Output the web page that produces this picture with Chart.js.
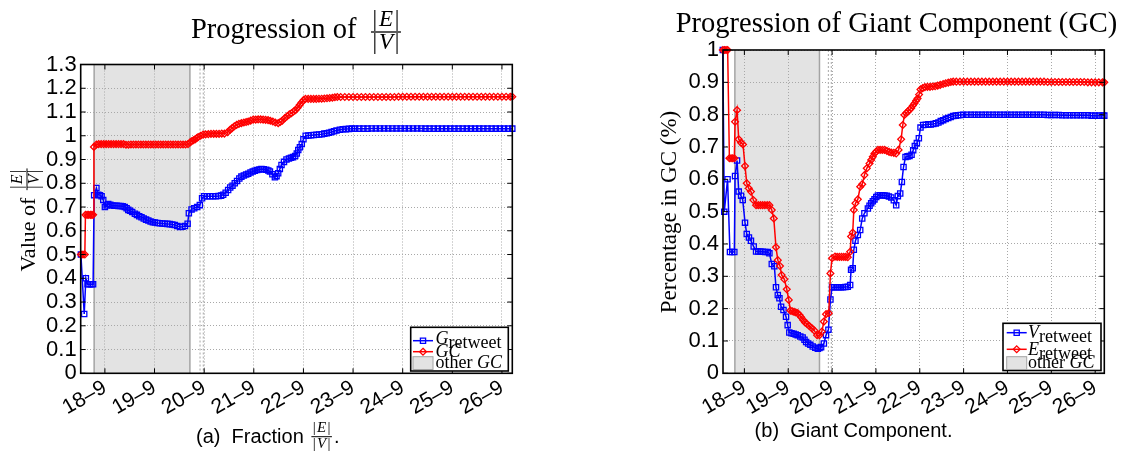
<!DOCTYPE html>
<html><head><meta charset="utf-8">
<script src="https://cdn.jsdelivr.net/npm/chart.js@4.4.1/dist/chart.umd.min.js"></script>
<style>
html,body{margin:0;padding:0;background:#fff;}
body{width:1147px;height:452px;position:relative;overflow:hidden;}
canvas{position:absolute;top:0;}
</style></head>
<body>
<canvas id="ca" width="560" height="452" style="left:0;width:560px;height:452px"></canvas>
<canvas id="cb" width="587" height="452" style="left:560px;width:587px;height:452px"></canvas>
<script>
// ---------- DATA (x = hours since 18-9 00:00) ----------
const dayTicks = [0, 24, 48, 72, 96, 120, 144, 168, 192];
const dayLabels = ['18–9','19–9','20–9','21–9','22–9','23–9','24–9','25–9','26–9'];
const xRange = [-11.7, 197];
const yTicksA = [0,0.1,0.2,0.3,0.4,0.5,0.6,0.7,0.8,0.9,1,1.1,1.2,1.3];
const yLabelsA = ['0','0.1','0.2','0.3','0.4','0.5','0.6','0.7','0.8','0.9','1','1.1','1.2','1.3'];
const yTicksB = [0,0.1,0.2,0.3,0.4,0.5,0.6,0.7,0.8,0.9,1];
const yLabelsB = ['0','0.1','0.2','0.3','0.4','0.5','0.6','0.7','0.8','0.9','1'];
const otherGCWindow = [-5.2, 41.1];
const markerHours = [46.0, 47.6];

// (a) |E|/|V| of G_retweet
const gRetweet = [[-11.6,0.50],[-10.0,0.25],[-9.2,0.40],[-8.4,0.375],[-7.4,0.375],[-6.5,0.375],[-5.7,0.375],[-5.2,0.75],[-4.1,0.78],[-3.2,0.752],[-2.4,0.75],[-1.6,0.745],[-0.8,0.73],[0,0.70],[0.8,0.706],[1.6,0.713],[2.6,0.71],[3.6,0.706],[4.6,0.705],[5.6,0.705],[6.6,0.704],[7.6,0.704],[8.6,0.703],[9.6,0.70],[10.5,0.695],[11.3,0.688],[12.2,0.684],[13.2,0.679],[14.5,0.672],[15.5,0.667],[16.6,0.661],[17.7,0.657],[18.8,0.652],[19.9,0.647],[21,0.643],[22.1,0.639],[23.2,0.636],[24.2,0.635],[25.4,0.633],[26.6,0.632],[27.8,0.631],[29,0.63],[30.2,0.629],[31.4,0.628],[32.6,0.626],[33.8,0.624],[35,0.62],[36.3,0.616],[37.5,0.617],[38.7,0.62],[40,0.63],[40.6,0.674],[41.9,0.69],[43.2,0.695],[44.6,0.70],[45.9,0.708],[47,0.737],[48,0.745],[49.4,0.745],[50.8,0.745],[52.2,0.745],[53.6,0.745],[55,0.746],[56.2,0.748],[57.2,0.752],[58.4,0.76],[59.6,0.772],[60.6,0.782],[61.7,0.79],[62.8,0.80],[63.9,0.81],[65,0.82],[66,0.828],[67.2,0.833],[68.3,0.837],[69.3,0.84],[70.4,0.845],[71.5,0.85],[72.5,0.853],[73.6,0.856],[74.7,0.858],[75.7,0.86],[76.8,0.859],[78,0.857],[79,0.854],[79.8,0.85],[81,0.838],[82.2,0.825],[83,0.83],[83.8,0.842],[84.6,0.86],[85.4,0.877],[86.6,0.89],[87.8,0.90],[89,0.904],[90,0.907],[91,0.91],[92,0.915],[92.8,0.925],[93.5,0.94],[94.3,0.952],[95.2,0.965],[96,0.985],[97.1,1.0],[98.4,1.001],[99.7,1.002],[101,1.003],[102.3,1.004],[103.6,1.005],[104.9,1.006],[106.1,1.009],[107.3,1.011],[108.4,1.013],[109.6,1.016],[110.8,1.019],[112,1.022],[113.6,1.025],[115,1.027],[116.5,1.028],[118,1.029],[119.5,1.03],[121,1.03],[123,1.03],[125,1.03],[127,1.03],[129,1.031],[131,1.031],[133,1.031],[135,1.031],[137,1.031],[139,1.031],[141,1.031],[143,1.031],[145,1.031],[147,1.031],[149,1.031],[151,1.031],[153,1.031],[155,1.03],[157,1.03],[159,1.03],[161,1.03],[163,1.03],[165,1.03],[167,1.03],[169,1.03],[171,1.03],[173,1.03],[175,1.03],[177,1.03],[179,1.03],[181,1.03],[183,1.03],[185,1.03],[187,1.03],[189,1.03],[191,1.03],[193,1.03],[195,1.03],[197,1.03]];

// (a) |E|/|V| of GC
const gcRatio = [[-11.6,0.50],[-10.6,0.50],[-9.7,0.50],[-9.4,0.667],[-8.6,0.667],[-7.8,0.667],[-7.0,0.667],[-6.3,0.667],[-5.7,0.667],[-5.3,0.953],[-4.1,0.963],[-3.0,0.965],[-1.8,0.965],[-0.6,0.965],[0.6,0.965],[1.8,0.965],[3,0.965],[4.2,0.965],[5.4,0.965],[6.6,0.965],[7.8,0.965],[9,0.965],[10.2,0.962],[11.4,0.962],[12.6,0.963],[13.8,0.963],[15,0.963],[16.2,0.963],[17.4,0.963],[18.6,0.963],[19.8,0.963],[21,0.963],[22.2,0.963],[23.4,0.963],[24.6,0.963],[25.8,0.963],[27,0.963],[28.2,0.963],[29.4,0.963],[30.6,0.963],[31.8,0.963],[33,0.963],[34.2,0.963],[35.4,0.963],[36.6,0.963],[37.8,0.963],[39,0.963],[40.2,0.965],[41.2,0.972],[41.9,0.977],[42.8,0.981],[43.6,0.985],[44.4,0.99],[45.1,0.995],[46.3,1.0],[47.5,1.005],[48.7,1.006],[50,1.007],[51.3,1.008],[52.6,1.008],[53.9,1.008],[55.2,1.008],[56.5,1.009],[57.8,1.009],[59.3,1.015],[60.5,1.025],[61.5,1.032],[62.6,1.04],[63.7,1.046],[64.8,1.05],[66,1.053],[67.2,1.056],[68.3,1.058],[69.3,1.06],[70.5,1.064],[71.7,1.068],[72.9,1.068],[74.1,1.069],[75.3,1.069],[76.5,1.068],[77.7,1.067],[78.9,1.066],[80,1.063],[81.2,1.06],[82.4,1.056],[83.8,1.053],[84.8,1.058],[85.8,1.064],[87,1.074],[88.1,1.082],[89.2,1.09],[90.2,1.095],[91.2,1.102],[92.2,1.108],[93.2,1.118],[94.2,1.13],[95.1,1.14],[96,1.15],[97,1.155],[98.3,1.155],[99.6,1.155],[100.9,1.155],[102.2,1.155],[103.5,1.156],[104.8,1.156],[106.1,1.157],[107.4,1.158],[108.7,1.159],[110,1.16],[111.2,1.162],[112.4,1.163],[114,1.163],[116,1.163],[118,1.163],[120,1.163],[122,1.163],[124,1.163],[126,1.163],[128,1.163],[130,1.163],[132,1.163],[134,1.163],[136,1.163],[138,1.163],[140,1.163],[142,1.164],[144,1.164],[146,1.164],[148,1.164],[150,1.164],[152,1.164],[154,1.164],[156,1.164],[158,1.164],[160,1.164],[162,1.164],[164,1.164],[166,1.164],[168,1.164],[170,1.164],[172,1.164],[174,1.164],[176,1.164],[178,1.164],[180,1.164],[182,1.164],[184,1.164],[186,1.164],[188,1.164],[190,1.164],[192,1.164],[194,1.164],[196,1.164],[197,1.164]];

// (b) share of V_retweet in the GC
const vRetweet = [[-11.8,1.0],[-11.0,0.5],[-9.2,0.6],[-7.9,0.375],[-6.7,0.375],[-5.5,0.375],[-5.1,0.61],[-4.0,0.658],[-3.1,0.562],[-1.8,0.549],[-0.9,0.536],[0.35,0.466],[1.3,0.431],[2.5,0.42],[3.6,0.41],[5.1,0.392],[6.4,0.377],[7.6,0.377],[8.8,0.377],[10,0.376],[11.4,0.375],[12.8,0.375],[13.7,0.371],[15,0.338],[16.4,0.331],[17.3,0.266],[18.3,0.242],[19.2,0.232],[20.1,0.206],[21.4,0.196],[22.8,0.175],[23.7,0.149],[24.6,0.126],[25.8,0.124],[27,0.122],[28.1,0.12],[29.2,0.118],[30.6,0.114],[31.9,0.111],[32.9,0.104],[33.8,0.097],[34.9,0.092],[36.1,0.088],[37.4,0.083],[38.8,0.079],[40.2,0.076],[41.1,0.078],[42,0.081],[43.5,0.092],[44.7,0.118],[46,0.135],[47.1,0.228],[48,0.266],[49.2,0.266],[50.4,0.266],[51.6,0.266],[52.8,0.266],[54,0.266],[55.3,0.267],[56.6,0.268],[57.9,0.273],[58.4,0.32],[59.3,0.325],[59.9,0.382],[60.8,0.41],[62.1,0.428],[63.4,0.443],[64.5,0.479],[65.7,0.495],[67.6,0.51],[68.5,0.518],[69.4,0.526],[70.3,0.532],[71.2,0.538],[72.2,0.545],[73.1,0.55],[74.3,0.551],[75.5,0.551],[76.7,0.55],[77.9,0.549],[79.1,0.547],[80.4,0.544],[81.8,0.535],[83.1,0.52],[84,0.548],[85.3,0.556],[86.2,0.592],[87.1,0.638],[88.2,0.669],[89.3,0.671],[90.4,0.672],[91.5,0.676],[92.4,0.69],[93.3,0.703],[94.4,0.712],[95.5,0.727],[96.4,0.76],[97.9,0.768],[99.3,0.769],[100.7,0.77],[102,0.77],[103.4,0.771],[104.8,0.773],[106.2,0.776],[107.5,0.78],[108.8,0.783],[110.2,0.787],[111.6,0.79],[113,0.793],[114.3,0.796],[115.7,0.797],[117,0.798],[118.4,0.799],[119.8,0.8],[122,0.8],[124,0.8],[126,0.8],[128,0.8],[130,0.8],[132,0.8],[134,0.8],[136,0.8],[138,0.8],[140,0.8],[142,0.8],[144,0.8],[146,0.8],[148,0.8],[150,0.8],[152,0.8],[154,0.8],[156,0.8],[158,0.8],[160,0.8],[162,0.8],[164,0.8],[166,0.799],[168,0.799],[170,0.799],[172,0.799],[174,0.798],[176,0.798],[178,0.798],[180,0.798],[182,0.798],[184,0.798],[186,0.798],[188,0.798],[190,0.797],[192,0.797],[194,0.797],[196,0.797],[197,0.797]];

// (b) share of E_retweet in the GC
const eRetweet = [[-11.8,1.0],[-10.9,1.0],[-10.0,1.0],[-9.15,1.0],[-8.2,0.665],[-7.3,0.665],[-6.4,0.665],[-5.5,0.665],[-5.1,0.778],[-4.0,0.814],[-3.1,0.724],[-1.8,0.713],[-0.75,0.708],[0.35,0.641],[1.3,0.588],[2.4,0.572],[3.6,0.562],[4.9,0.536],[6.4,0.52],[7.6,0.52],[8.8,0.52],[10,0.52],[11.2,0.52],[12.5,0.52],[13.7,0.52],[15,0.505],[16.1,0.479],[17.3,0.39],[18.3,0.35],[19.5,0.332],[20.4,0.304],[21.9,0.291],[23.2,0.26],[24.3,0.227],[25.2,0.194],[26.2,0.192],[27.2,0.19],[28.2,0.188],[29.2,0.186],[30.2,0.18],[31.1,0.173],[32.2,0.165],[33.2,0.157],[34.4,0.152],[35.6,0.146],[37,0.139],[38.3,0.132],[39.8,0.118],[41.1,0.118],[42.4,0.129],[43.5,0.16],[44.7,0.183],[46.2,0.186],[47.1,0.309],[48,0.356],[49.6,0.361],[50.8,0.36],[52,0.36],[53.2,0.36],[54.4,0.36],[55.5,0.36],[56.6,0.359],[57.9,0.376],[58.4,0.423],[59.3,0.435],[59.9,0.505],[60.8,0.526],[62.1,0.538],[63.4,0.577],[64.5,0.585],[65.7,0.613],[67,0.634],[68.5,0.649],[69.4,0.66],[70.3,0.67],[71.2,0.68],[72.2,0.686],[73.1,0.691],[74.3,0.691],[75.5,0.691],[76.7,0.691],[78,0.688],[79.2,0.685],[80.4,0.683],[81.8,0.682],[83.1,0.68],[84.4,0.691],[85.8,0.724],[86.7,0.768],[87.6,0.799],[88.6,0.805],[89.5,0.81],[90.4,0.815],[91.3,0.82],[92.2,0.828],[93.1,0.835],[94,0.843],[94.8,0.85],[95.6,0.862],[96.4,0.878],[97.6,0.882],[98.8,0.885],[100.2,0.886],[101.6,0.886],[103,0.887],[104.4,0.888],[105.8,0.89],[107.2,0.892],[108.8,0.895],[110.2,0.897],[111.6,0.899],[113,0.901],[114.3,0.902],[116,0.902],[118,0.902],[120,0.902],[122,0.902],[124,0.902],[126,0.902],[128,0.902],[130,0.902],[132,0.902],[134,0.902],[136,0.902],[138,0.902],[140,0.902],[142,0.902],[144,0.902],[146,0.902],[148,0.902],[150,0.902],[152,0.902],[154,0.902],[156,0.902],[158,0.902],[160,0.902],[162,0.902],[164,0.902],[166,0.901],[168,0.901],[170,0.901],[172,0.901],[174,0.901],[176,0.901],[178,0.901],[180,0.901],[182,0.901],[184,0.901],[186,0.901],[188,0.9],[190,0.9],[192,0.9],[194,0.9],[196,0.9],[197,0.9]];

// ---------- RENDERING ----------
const SERIF = '"Liberation Serif", "Times New Roman", serif';
const SANS = '"Liberation Sans", Arial, sans-serif';
const BLUE = '#0000ff', RED = '#ff0000';
function F(size, italic){ return (italic ? 'italic ' : '') + size + 'px ' + SERIF; }
function runs(c, x, y, parts){
  for (const p of parts){ c.font = p[1]; c.fillText(p[0], x, y + (p[2] || 0)); x += c.measureText(p[0]).width + (p[3] || 0); }
  return x;
}
function runsW(c, parts){ let w = 0; for (const p of parts){ c.font = p[1]; w += c.measureText(p[0]).width + (p[3] || 0); } return w; }
function bars(letter, s){ return [['|', F(s), 0, s*0.08], [letter, F(s, true), 0, s*0.08], ['|', F(s)]]; }
function frac(c, x, yBar, num, den, size, lw){
  const wn = runsW(c, num), wd = runsW(c, den), w = Math.max(wn, wd) + 3;
  runs(c, x + (w - wn)/2, yBar - 0.22*size - 1, num);
  runs(c, x + (w - wd)/2, yBar + 0.7*size + 1, den);
  c.beginPath(); c.lineWidth = lw || 1; c.moveTo(x, yBar); c.lineTo(x + w, yBar); c.stroke();
  return x + w;
}
function marker(c, style, x, y, color){
  c.save(); c.strokeStyle = color; c.lineWidth = 1.3; c.beginPath();
  if (style === 'rect'){ c.rect(x - 2.6, y - 2.6, 5.2, 5.2); }
  else { c.moveTo(x, y - 3.4); c.lineTo(x + 3.4, y); c.lineTo(x, y + 3.4); c.lineTo(x - 3.4, y); c.closePath(); }
  c.stroke(); c.restore();
}

function decor(spec){
  return {
    id: 'decor',
    beforeDraw(ch){
      const c = ch.ctx, a = ch.chartArea, xs = ch.scales.x;
      c.save();
      c.fillStyle = '#fff'; c.fillRect(0, 0, ch.width, ch.height);
      const x0 = xs.getPixelForValue(otherGCWindow[0]), x1 = xs.getPixelForValue(otherGCWindow[1]);
      c.fillStyle = '#e3e3e3'; c.fillRect(x0, a.top, x1 - x0, a.bottom - a.top);
      c.strokeStyle = '#a4a4a4'; c.lineWidth = 1.5;
      c.beginPath(); c.moveTo(x0, a.top); c.lineTo(x0, a.bottom); c.moveTo(x1, a.top); c.lineTo(x1, a.bottom); c.stroke();
      c.restore();
    },
    beforeDatasetsDraw(ch){
      const c = ch.ctx, a = ch.chartArea, xs = ch.scales.x;
      c.save(); c.strokeStyle = '#b4b4b4'; c.lineWidth = 1.2; c.setLineDash([2, 2]);
      for (const h of markerHours){ const px = xs.getPixelForValue(h); c.beginPath(); c.moveTo(px, a.top); c.lineTo(px, a.bottom); c.stroke(); }
      c.restore();
    },
    afterDraw(ch){
      const c = ch.ctx, a = ch.chartArea, xs = ch.scales.x, ys = ch.scales.y;
      c.save();
      c.strokeStyle = '#000'; c.lineWidth = 1.6;
      c.strokeRect(a.left, a.top, a.right - a.left, a.bottom - a.top);
      c.lineWidth = 1; c.beginPath();
      for (const v of dayTicks){ const px = xs.getPixelForValue(v); c.moveTo(px, a.bottom); c.lineTo(px, a.bottom - 5); c.moveTo(px, a.top); c.lineTo(px, a.top + 5); }
      for (const v of spec.yTicks){ const py = ys.getPixelForValue(v); c.moveTo(a.left, py); c.lineTo(a.left + 5, py); c.moveTo(a.right, py); c.lineTo(a.right - 5, py); }
      c.stroke();
      const L = spec.legend;
      c.fillStyle = '#fff'; c.fillRect(L.box[0], L.box[1], L.box[2] - L.box[0], L.box[3] - L.box[1]);
      c.strokeStyle = '#000'; c.lineWidth = 1.6; c.strokeRect(L.box[0], L.box[1], L.box[2] - L.box[0], L.box[3] - L.box[1]);
      const lines = [[L.y1, BLUE, 'rect'], [L.y2, RED, 'rectRot']];
      for (const [yy, col, st] of lines){
        c.strokeStyle = col; c.lineWidth = 1.5; c.beginPath(); c.moveTo(L.sx0, yy); c.lineTo(L.sx1, yy); c.stroke();
        marker(c, st, (L.sx0 + L.sx1)/2, yy, col);
      }
      c.fillStyle = '#e3e3e3'; c.fillRect(L.sx0, L.gy0, L.sx1 - L.sx0, L.gy1 - L.gy0);
      c.strokeStyle = '#a4a4a4'; c.lineWidth = 1; c.strokeRect(L.sx0, L.gy0, L.sx1 - L.sx0, L.gy1 - L.gy0);
      c.fillStyle = '#000'; c.textAlign = 'left'; c.textBaseline = 'alphabetic';
      runs(c, L.tx, L.b1, L.t1);
      runs(c, L.tx, L.b2, L.t2);
      runs(c, L.tx, L.b3, [['other ', F(18)], ['GC', F(18, true)]]);
      c.strokeStyle = '#000';
      spec.texts(c);
      c.restore();
    }
  };
}

function build(id, o){
  return new Chart(document.getElementById(id), {
    type: 'line',
    data: { datasets: [
      { label: o.names[1], data: o.red, order: 0, borderColor: RED, borderWidth: 1.5, pointStyle: 'rectRot', pointRadius: 3.4,
        pointBorderColor: RED, pointBackgroundColor: 'rgba(0,0,0,0)', pointBorderWidth: 1.3, clip: 6 },
      { label: o.names[0], data: o.blue, order: 1, borderColor: BLUE, borderWidth: 1.5, pointStyle: 'rect', pointRadius: 3.7,
        pointBorderColor: BLUE, pointBackgroundColor: 'rgba(0,0,0,0)', pointBorderWidth: 1.3, clip: 6 }
    ]},
    options: {
      responsive: false, animation: false, devicePixelRatio: 1,
      layout: { padding: o.pad },
      elements: { line: { tension: 0 } },
      plugins: { legend: { display: false }, tooltip: { enabled: false }, title: { display: false } },
      scales: {
        x: {
          type: 'linear', min: xRange[0], max: xRange[1],
          afterBuildTicks: s => { s.ticks = dayTicks.map(v => ({ value: v })); },
          afterFit: s => { s.height = 50; },
          ticks: { autoSkip: false, minRotation: 30, maxRotation: 30, padding: 2, color: '#000',
                   font: { family: SANS, size: 21 }, callback: v => dayLabels[dayTicks.indexOf(v)] },
          grid: { color: '#a8a8a8', lineWidth: 1, drawTicks: false },
          border: { display: false, dash: [1, 2] }
        },
        y: {
          type: 'linear', min: 0, max: o.yTicks[o.yTicks.length - 1],
          afterBuildTicks: s => { s.ticks = o.yTicks.map(v => ({ value: v })); },
          afterFit: s => { s.width = 40; },
          ticks: { autoSkip: false, padding: 4, color: '#000', font: { family: SANS, size: 22 },
                   callback: v => o.yLabels[o.yTicks.indexOf(v)] },
          grid: { color: '#a8a8a8', lineWidth: 1, drawTicks: false },
          border: { display: false, dash: [1, 2] }
        }
      }
    },
    plugins: [decor(o)]
  });
}

build('ca', {
  names: ['G_retweet', 'GC'], blue: gRetweet, red: gcRatio,
  yTicks: yTicksA, yLabels: yLabelsA,
  pad: { left: 40.7, right: 47.7, top: 64.5, bottom: 28.7 },
  legend: { box: [410.7, 327.3, 508.3, 371], sx0: 413, sx1: 433, y1: 340.7, y2: 351.7, gy0: 356.7, gy1: 369.5,
            tx: 435.5, b1: 344, b2: 356.5, b3: 368,
            t1: [['G', F(18, true)], ['retweet', F(18), 4]], t2: [['GC', F(18, true)]] },
  texts(c){
    c.textAlign = 'left';
    runs(c, 191, 38, [['Progression of', F(28.5)]]);
    frac(c, 371, 32, bars('E', 23), bars('V', 23), 23, 1.3);
    c.save(); c.translate(35, 220); c.rotate(-Math.PI/2);
    const p1 = [['Value of ', F(22)]];
    const w1 = runsW(c, p1), wf = runsW(c, bars('V', 16)) + 3;
    const st = -(w1 + 2 + wf)/2;
    runs(c, st, 0, p1);
    frac(c, st + w1 + 2, -8, bars('E', 16), bars('V', 16), 16, 1);
    c.restore();
    let x = runs(c, 196, 443, [['(a)  Fraction ', '20px ' + SANS]]);
    x = frac(c, x + 2, 436.7, bars('E', 15), bars('V', 15), 15, 1);
    runs(c, x + 2, 443, [['.', '20px ' + SANS]]);
  }
});

build('cb', {
  names: ['V_retweet', 'E_retweet'], blue: vRetweet, red: eRetweet,
  yTicks: yTicksB, yLabels: yLabelsB,
  pad: { left: 123, right: 42.7, top: 50, bottom: 28.7 },
  legend: { box: [443, 323.3, 541, 370.5], sx0: 446.7, sx1: 466.7, y1: 332.7, y2: 349.3, gy0: 356.7, gy1: 369.5,
            tx: 468, b1: 338, b2: 355, b3: 368.3,
            t1: [['V', F(18, true)], ['retweet', F(18), 4]], t2: [['E', F(18, true)], ['retweet', F(18), 4]] },
  texts(c){
    c.textAlign = 'center';
    c.font = F(28.5); c.fillText('Progression of Giant Component (GC)', 336.5, 32);
    c.save(); c.translate(116, 212); c.rotate(-Math.PI/2);
    c.font = F(23); c.fillText('Percentage in GC (%)', 0, 0);
    c.restore();
    c.textAlign = 'left';
    runs(c, 194.6, 437, [['(b)  Giant Component.', '20px ' + SANS]]);
  }
});
</script>
</body></html>
